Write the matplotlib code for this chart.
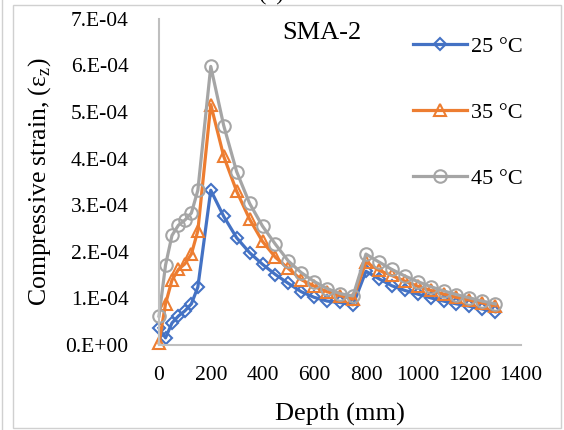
import matplotlib
matplotlib.use("Agg")
import matplotlib.pyplot as plt
from matplotlib.ticker import FuncFormatter, MultipleLocator
from matplotlib.patches import Rectangle

plt.rcParams['font.family'] = ['Liberation Serif', 'DejaVu Serif']
plt.rcParams['mathtext.fontset'] = 'custom'
plt.rcParams['mathtext.rm'] = 'Liberation Serif'

# depth (mm)
depth = [0, 25, 50, 75, 100, 125, 150, 200, 250, 300, 350, 400, 450, 500, 550,
         600, 650, 700, 750, 800, 850, 900, 950, 1000, 1050, 1100, 1150, 1200,
         1250, 1300]

# compressive strain (x1e-4)
strain_25 = [0.36, 0.15, 0.47, 0.62, 0.73, 0.88, 1.24, 3.32, 2.76, 2.30, 1.98,
             1.73, 1.51, 1.32, 1.14, 1.02, 0.94, 0.91, 0.86, 1.58, 1.42, 1.27,
             1.17, 1.09, 1.01, 0.94, 0.88, 0.83, 0.77, 0.71]
strain_35 = [0.04, 0.88, 1.39, 1.62, 1.74, 1.95, 2.45, 5.16, 4.05, 3.30, 2.70,
             2.22, 1.88, 1.64, 1.40, 1.26, 1.14, 1.06, 0.98, 1.78, 1.60, 1.49,
             1.37, 1.26, 1.17, 1.09, 1.02, 0.96, 0.90, 0.84]
strain_45 = [0.62, 1.71, 2.35, 2.57, 2.68, 2.83, 3.32, 5.98, 4.71, 3.72, 3.04,
             2.55, 2.16, 1.80, 1.55, 1.36, 1.21, 1.10, 1.05, 1.95, 1.78, 1.62,
             1.48, 1.36, 1.25, 1.16, 1.08, 1.01, 0.94, 0.88]

labels = ['25 °C', '35 °C', '45 °C']
colors = ['#4472C4', '#ED7D31', '#A5A5A5']
markers = ['D', '^', 'o']
msizes = [6.5, 8.5, 9]

fig = plt.figure(figsize=(5.64, 4.3), dpi=100)
ax = fig.add_axes([0.282, 0.198, 0.642, 0.758])

for s, lab, c, m, ms in zip([strain_25, strain_35, strain_45], labels, colors, markers, msizes):
    ax.plot(depth, [v * 1e-4 for v in s], color=c, lw=2.3, marker=m, ms=ms,
            mfc='none', mec=c, mew=1.5, label=lab, clip_on=False)

ax.set_xlim(0, 1400)
ax.set_ylim(0, 7e-4)
ax.xaxis.set_major_locator(MultipleLocator(200))
ax.yaxis.set_major_locator(MultipleLocator(1e-4))
ax.yaxis.set_major_formatter(FuncFormatter(lambda v, p: '%#.0E' % v))

for side in ['top', 'right']:
    ax.spines[side].set_visible(False)
for side in ['left', 'bottom']:
    ax.spines[side].set_color('#BFBFBF')
    ax.spines[side].set_linewidth(1.5)

ax.tick_params(axis='both', length=0, labelsize=15.5)
ax.tick_params(axis='y', pad=22)
ax.tick_params(axis='x', pad=15)

ax.set_xlabel('Depth (mm)', fontsize=19, labelpad=13)
ax.set_ylabel(r'Compressive strain, (ε$_{\mathrm{z}}$)', fontsize=18.5, labelpad=9)
ax.set_title('SMA-2', fontsize=19, x=0.45, y=0.93, va='center')

fig.legend(loc='upper left', bbox_to_anchor=(413 / 564, 1 - 36 / 430),
           frameon=False, fontsize=16, handlelength=2.45, handletextpad=0.15,
           labelspacing=2.05, borderpad=0, borderaxespad=0)

# outer frame and cut-off panel label
fig.patches.append(Rectangle((13 / 564, 2 / 430), 548 / 564, 423 / 430,
                             transform=fig.transFigure, fill=False,
                             ec='#D0D0D0', lw=1))
fig.lines.append(plt.Line2D([2 / 564, 2 / 564], [0, 1], transform=fig.transFigure,
                            color='#D0D0D0', lw=1))
fig.text(271 / 564, 1.0, '(c)', fontsize=16, ha='center', va='baseline')

fig.savefig('out.png', dpi=100)
